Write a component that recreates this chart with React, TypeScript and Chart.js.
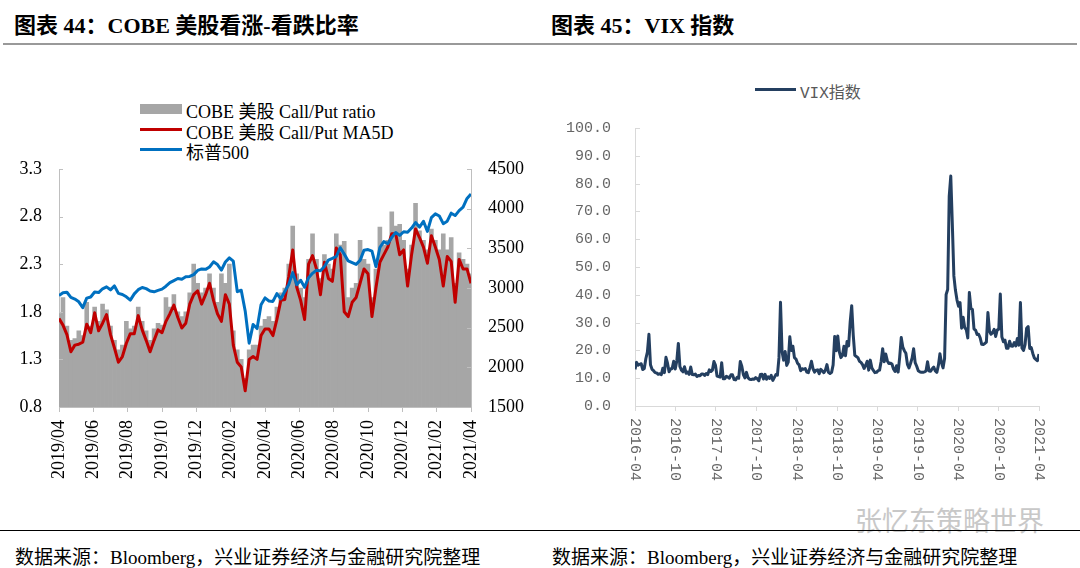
import React, { useEffect, useRef } from "react";
import { Chart, registerables } from "chart.js";
Chart.register(...registerables);

// ---------------- Data: left chart (COBE call/put ratio & S&P 500), weekly ----------------
const cobeTicks = ["2019/04","2019/06","2019/08","2019/10","2019/12","2020/02","2020/04","2020/06","2020/08","2020/10","2020/12","2021/02","2021/04"];
const cobeRatio = [
  1.78,1.95,1.65,1.50,1.52,1.60,1.55,1.90,1.65,1.85,
  1.70,1.88,1.82,1.65,1.50,1.40,1.45,1.70,1.62,1.65,
  1.85,1.70,1.60,1.50,1.62,1.68,1.66,1.95,1.85,1.98,
  1.80,1.75,1.80,2.00,2.30,2.10,2.00,2.05,2.20,2.05,
  1.90,2.20,2.10,2.30,1.60,1.40,1.30,1.10,1.40,1.45,
  1.45,1.65,1.72,1.75,1.70,1.85,2.00,2.05,2.30,2.70,
  2.20,2.05,1.95,2.35,2.62,2.35,2.15,2.40,2.30,2.25,
  2.62,2.50,2.54,1.95,2.05,2.10,2.55,2.35,2.30,1.95,
  2.25,2.69,2.50,2.55,2.85,2.70,2.72,2.55,2.25,2.50,
  2.94,2.65,2.55,2.45,2.67,2.55,2.45,2.62,2.45,2.58,
  2.10,2.42,2.35,2.30,2.20
];
const cobeMA5D = [
  1.73,1.66,1.56,1.38,1.45,1.46,1.48,1.67,1.58,1.79,
  1.60,1.68,1.77,1.56,1.42,1.27,1.33,1.47,1.57,1.57,
  1.76,1.61,1.50,1.38,1.50,1.61,1.58,1.70,1.78,1.87,
  1.74,1.63,1.68,1.88,1.98,2.02,1.88,1.98,2.10,1.92,
  1.78,1.70,1.98,1.88,1.45,1.27,1.22,0.97,1.30,1.33,
  1.30,1.55,1.62,1.62,1.55,1.72,1.92,1.93,2.17,2.45,
  2.06,1.92,1.72,2.30,2.39,2.25,1.98,2.32,2.15,2.12,
  2.47,2.40,1.80,1.75,1.90,1.95,2.10,2.25,2.20,1.75,
  2.05,2.32,2.40,2.48,2.62,2.62,2.40,2.45,2.07,2.40,
  2.67,2.58,2.48,2.31,2.60,2.48,2.35,2.07,2.38,2.33,
  1.90,2.35,2.25,2.25,2.10
];
const spx500 = [
  2905,2940,2946,2881,2860,2826,2752,2873,2887,2950,2942,2990,3014,2977,3026,2932,2919,2889,2847,2926,
  2979,3007,2992,2962,2952,2970,2986,3023,3067,3093,3120,3110,3141,3146,3169,3221,3240,
  3235,3265,3330,3295,3226,3328,3380,3338,2954,2972,2711,2305,2541,2489,2790,2875,2837,2831,2930,2864,
  2955,3044,3194,3041,3098,3009,3130,3185,3225,3216,3271,3351,3373,3397,3508,3427,3341,3319,3298,3348,
  3477,3484,3465,3270,3510,3585,3558,3638,3699,3663,3709,3703,3756,
  3825,3768,3841,3714,3887,3934,3907,3811,3842,3943,3913,3975,4020,4129,4185
];

// ---------------- Data: right chart (VIX), weekly ----------------
const vixTicks = ["2016-04","2016-10","2017-04","2017-10","2018-04","2018-10","2019-04","2019-10","2020-04","2020-10","2021-04"];
const vixValues = [
  13.2,15.7,
  14.7,15.0,15.2,13.1, 13.5,17.0,19.4,25.8, 14.8,13.2,12.7,12.0,11.9, 11.4,11.6,11.3,13.6,
  12.0,17.5,15.4,12.3,13.3, 13.5,16.1,13.3,16.2, 22.5,14.2,12.9,12.3, 14.1,11.8,12.2,11.4,14.0,
  11.3,11.2,11.5,10.6, 11.0,10.9,11.5,11.5, 11.0,11.7,11.3,13.0,12.4, 12.9,16.0,14.6,10.8,
  10.6,10.4,15.6,9.8, 9.8,10.7,10.4,10.0,11.2, 11.2,9.5,9.4,10.3, 10.0,16.0,14.3,11.3,
  10.1,12.1,10.2,9.6,9.5, 9.7,9.6,10.2,9.8, 9.1,11.3,11.4,9.7, 11.4,9.6,10.5,9.9,11.0,
  9.2,10.2,11.3,11.1, 17.3,37.3,19.5,16.5, 19.6,14.6,15.8,24.9,20.0, 21.5,17.4,16.9,15.4,
  14.8,12.7,13.4,13.2, 13.5,12.2,12.0,13.8,16.1, 13.4,12.2,12.9,13.0, 11.6,13.2,12.6,12.0,12.9,
  14.9,12.1,11.7,12.1, 14.8,25.0,19.9,25.2, 19.5,17.4,18.1,21.5,18.1, 23.2,21.6,30.1,36.1,
  25.5,18.2,17.8,17.4, 16.1,15.7,14.9,13.5, 14.6,16.1,12.9,16.5,13.7, 12.8,12.0,12.1,12.7,
  12.9,16.0,20.6,15.9,18.7, 16.3,15.3,15.4,15.1, 13.3,12.4,14.5,12.2, 17.6,24.6,21.2,19.9,19.0,
  15.0,13.7,15.3,17.2, 20.6,15.6,14.3,12.7, 12.3,12.1,12.1,12.3,12.6, 15.9,12.6,12.5,13.4,
  14.0,12.6,12.1,14.6,18.8, 15.5,13.7,17.1,40.1, 41.9,75.5,82.7,65.5, 46.8,41.7,38.2,35.9,
  37.2,28.0,31.9,28.2,27.5, 24.5,40.8,35.1,34.7, 27.7,27.3,25.7,25.8,24.5, 22.2,22.1,22.5,23.0,
  33.6,26.9,25.8,26.4, 27.6,25.0,27.4,27.6,40.3, 24.9,23.1,23.7,20.8, 20.8,23.3,21.6,21.5,22.8,
  21.6,24.3,21.9,37.2, 20.9,20.0,22.1,28.0, 28.6,20.7,21.0,18.9, 17.3,16.7,16.3,18.7
];

const SERIF = "'Liberation Serif', 'Noto Sans CJK SC', serif";
const MONO = "'Liberation Mono', 'Noto Sans CJK SC', monospace";

const toPts = (vals: number[], span: number) =>
  vals.map((v, i) => ({ x: (i * span) / (vals.length - 1), y: v }));

const noPad = (w: number) => (s: any) => {
  s.width = w;
  s.paddingTop = 0;
  s.paddingBottom = 0;
};

const inwardTicks = (specs: { id: string; dir: number; len: number; color: string }[]) => ({
  id: "inwardTicks",
  afterDraw(chart: any) {
    const ctx = chart.ctx;
    ctx.save();
    ctx.lineWidth = 1;
    for (const s of specs) {
      const sc = chart.scales[s.id];
      const x0 = s.dir > 0 ? sc.right : sc.left;
      ctx.strokeStyle = s.color;
      sc.ticks.forEach((t: any) => {
        const y = Math.round(sc.getPixelForValue(t.value)) + 0.5;
        ctx.beginPath();
        ctx.moveTo(x0, y);
        ctx.lineTo(x0 + s.dir * s.len, y);
        ctx.stroke();
      });
    }
    ctx.restore();
  },
});

function CobeChart() {
  const ref = useRef<HTMLCanvasElement>(null);
  useEffect(() => {
    const tickVals = cobeTicks.map((_, i) => i * 2);
    const chart = new Chart(ref.current!, {
      type: "bar",
      data: {
        datasets: [
          { type: "line", label: "标普500", data: toPts(spx500, 24), yAxisID: "y1", borderColor: "#0070c0", borderWidth: 3, pointRadius: 0, order: 0, borderJoinStyle: "round" } as any,
          { type: "line", label: "COBE 美股 Call/Put MA5D", data: toPts(cobeMA5D, 24), yAxisID: "y", borderColor: "#c00000", borderWidth: 3, pointRadius: 0, order: 1, borderJoinStyle: "round" } as any,
          { type: "bar", label: "COBE 美股 Call/Put ratio", data: toPts(cobeRatio, 24), yAxisID: "y", backgroundColor: "#a6a6a6", barPercentage: 1, categoryPercentage: 1, borderWidth: 0, order: 2 } as any,
        ],
      },
      options: {
        animation: false,
        responsive: false,
        maintainAspectRatio: false,
        layout: { padding: { top: 9, left: 0, right: 0, bottom: 0 } },
        plugins: { legend: { display: false }, tooltip: { enabled: false } },
        scales: {
          x: {
            type: "linear",
            min: 0,
            max: 24,
            offset: false,
            afterBuildTicks: (s: any) => { s.ticks = tickVals.map((v) => ({ value: v })); },
            afterFit: (s: any) => { s.height = 83; },
            ticks: {
              autoSkip: false,
              minRotation: 90,
              maxRotation: 90,
              padding: 8,
              color: "#000",
              font: { family: SERIF, size: 18 },
              callback: (_v: any, i: number) => cobeTicks[i],
            },
            grid: { display: true, drawOnChartArea: false, drawTicks: true, tickLength: 5, color: "#bfbfbf", offset: false },
            border: { display: true, color: "#bfbfbf" },
          } as any,
          y: {
            position: "left",
            min: 0.8,
            max: 3.3,
            afterFit: noPad(59),
            ticks: { stepSize: 0.5, padding: 17, color: "#000", font: { family: SERIF, size: 18 }, callback: (v: any) => Number(v).toFixed(1) },
            grid: { display: false, drawTicks: false },
            border: { display: true, color: "#bfbfbf" },
          } as any,
          y1: {
            position: "right",
            min: 1500,
            max: 4500,
            afterFit: noPad(69),
            ticks: { stepSize: 500, padding: 17, color: "#000", font: { family: SERIF, size: 18 }, callback: (v: any) => String(v) },
            grid: { display: false, drawTicks: false },
            border: { display: true, color: "#bfbfbf" },
          } as any,
        },
      },
      plugins: [inwardTicks([
        { id: "y", dir: 1, len: 4, color: "#bfbfbf" },
        { id: "y1", dir: -1, len: 4, color: "#bfbfbf" },
      ])],
    });
    return () => chart.destroy();
  }, []);
  return <canvas ref={ref} width={540} height={330} style={{ position: "absolute", left: 0, top: 160, width: 540, height: 330 }} />;
}

function VixChart() {
  const ref = useRef<HTMLCanvasElement>(null);
  useEffect(() => {
    const tickVals = vixTicks.map((_, i) => i * 6);
    const rotLabels = {
      id: "rotLabels",
      afterDraw(chart: any) {
        const sc = chart.scales.x;
        const ctx = chart.ctx;
        ctx.save();
        ctx.fillStyle = "#666";
        ctx.font = `15px ${MONO}`;
        ctx.textAlign = "left";
        ctx.textBaseline = "middle";
        tickVals.forEach((v, i) => {
          const x = sc.getPixelForValue(v);
          ctx.save();
          ctx.translate(x, sc.top + 12);
          ctx.rotate(Math.PI / 2);
          ctx.fillText(vixTicks[i], 0, 0);
          ctx.restore();
        });
        ctx.restore();
      },
    };
    const chart = new Chart(ref.current!, {
      type: "line",
      data: {
        datasets: [
          { label: "VIX指数", data: toPts(vixValues, 60), borderColor: "#243f60", borderWidth: 3, pointRadius: 0, borderJoinStyle: "round" } as any,
        ],
      },
      options: {
        animation: false,
        responsive: false,
        maintainAspectRatio: false,
        layout: { padding: { top: 8, left: 0, right: 41, bottom: 0 } },
        plugins: { legend: { display: false }, tooltip: { enabled: false } },
        scales: {
          x: {
            type: "linear",
            min: 0,
            max: 60,
            afterBuildTicks: (s: any) => { s.ticks = tickVals.map((v) => ({ value: v })); },
            afterFit: (s: any) => { s.height = 94; s.paddingLeft = 0; s.paddingRight = 0; },
            ticks: { display: false },
            grid: { display: true, drawOnChartArea: false, drawTicks: true, tickLength: 5, color: "#d9d9d9" },
            border: { display: true, color: "#d9d9d9" },
          } as any,
          y: {
            min: 0,
            max: 100,
            afterFit: noPad(95),
            ticks: { stepSize: 10, padding: 24, color: "#666", font: { family: MONO, size: 15 }, callback: (v: any) => Number(v).toFixed(1) },
            grid: { display: false, drawTicks: false },
            border: { display: true, color: "#d9d9d9" },
          } as any,
        },
      },
      plugins: [rotLabels, inwardTicks([{ id: "y", dir: 1, len: 5, color: "#d9d9d9" }])],
    });
    return () => chart.destroy();
  }, []);
  return <canvas ref={ref} width={540} height={380} style={{ position: "absolute", left: 540, top: 120, width: 540, height: 380 }} />;
}

const abs = (s: React.CSSProperties): React.CSSProperties => ({ position: "absolute", whiteSpace: "nowrap", ...s });

export default function App() {
  const footer = "数据来源：Bloomberg，兴业证券经济与金融研究院整理";
  return (
    <div style={{ position: "absolute", left: 0, top: 0, width: 1080, height: 568, background: "#fff", overflow: "hidden" }}>
      <div style={abs({ left: 14, top: 7, lineHeight: "28px", font: `bold 22px ${SERIF}`, color: "#000" })}>图表 44：COBE 美股看涨-看跌比率</div>
      <div style={abs({ left: 551, top: 7, lineHeight: "28px", font: `bold 22px ${SERIF}`, color: "#000" })}>图表 45：VIX 指数</div>
      <div style={abs({ left: 3, top: 43, width: 1074, height: 2, background: "#999" })} />

      {/* left legend */}
      <div style={abs({ left: 140, top: 104, width: 42, height: 10, background: "#a6a6a6" })} />
      <div style={abs({ left: 186, top: 97, lineHeight: "24px", font: `18px ${SERIF}`, color: "#000" })}>COBE 美股 Call/Put ratio</div>
      <div style={abs({ left: 140, top: 128, width: 42, height: 3, background: "#c00000" })} />
      <div style={abs({ left: 186, top: 118, lineHeight: "24px", font: `18px ${SERIF}`, color: "#000" })}>COBE 美股 Call/Put MA5D</div>
      <div style={abs({ left: 140, top: 148, width: 42, height: 3, background: "#0070c0" })} />
      <div style={abs({ left: 186, top: 138, lineHeight: "24px", font: `18px ${SERIF}`, color: "#000" })}>标普500</div>

      <CobeChart />

      {/* right legend */}
      <div style={abs({ left: 755, top: 88, width: 41, height: 3, background: "#243f60" })} />
      <div style={abs({ left: 800, top: 79, lineHeight: "22px", font: `16px ${MONO}`, color: "#595959" })}>VIX指数</div>

      <VixChart />

      <div style={abs({ left: 855, top: 500, lineHeight: "36px", font: `27px 'Noto Sans CJK SC', sans-serif`, color: "#c8c8c8" })}>张忆东策略世界</div>
      <div style={abs({ left: 0, top: 530, width: 1080, height: 1, background: "#000" })} />
      <div style={abs({ left: 15, top: 542, lineHeight: "26px", font: `19px ${SERIF}`, color: "#000" })}>{footer}</div>
      <div style={abs({ left: 552, top: 542, lineHeight: "26px", font: `19px ${SERIF}`, color: "#000" })}>{footer}</div>
    </div>
  );
}
